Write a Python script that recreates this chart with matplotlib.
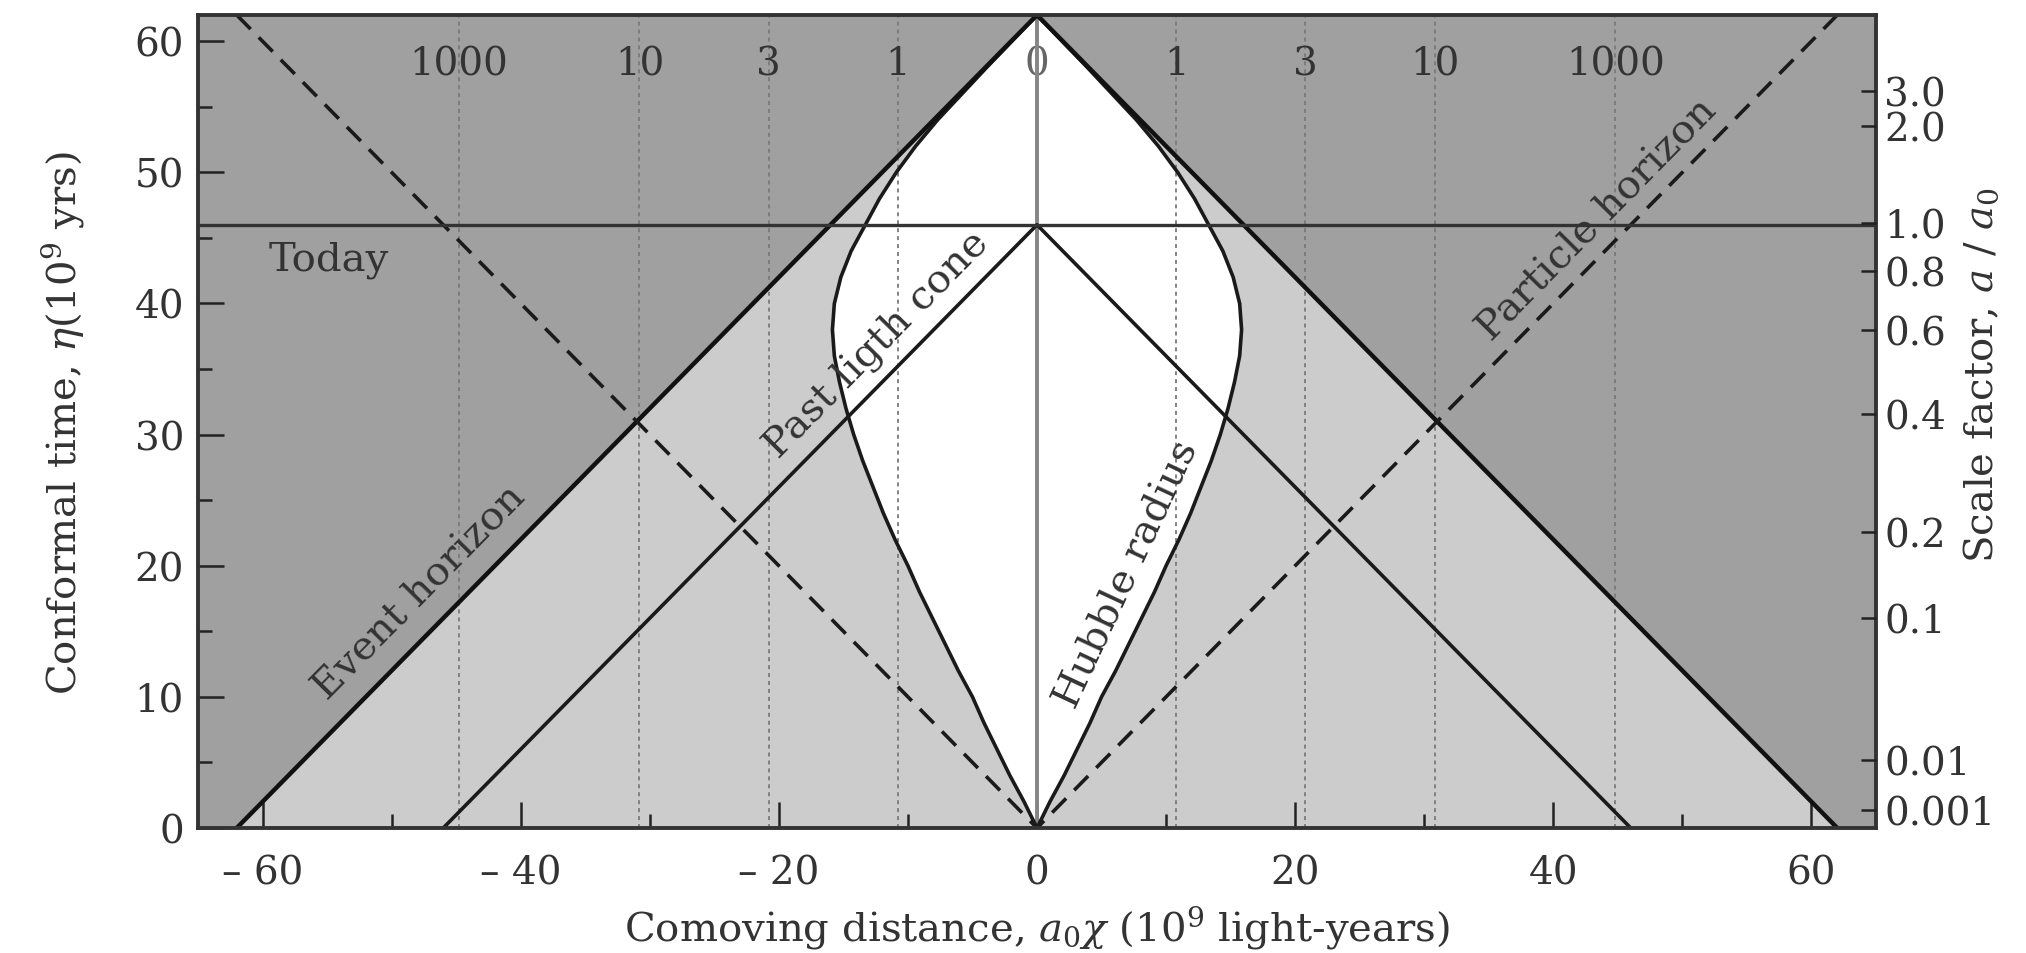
import numpy as np
import matplotlib
matplotlib.use("Agg")
import matplotlib.pyplot as plt

# ---------------- data ----------------
eta_today = 46.0      # conformal time today (10^9 yr)
eta_max = 62.0        # conformal time at t -> infinity (event horizon apex)

x_ticks = [-60, -40, -20, 0, 20, 40, 60]
x_ticklabels = ["\u2013 60", "\u2013 40", "\u2013 20", "0", "20", "40", "60"]
x_minor = [-50, -30, -10, 10, 30, 50]
y_ticks = [0, 10, 20, 30, 40, 50, 60]
y_minor = [5, 15, 25, 35, 45, 55]

redshift_labels = ["1000", "10", "3", "1", "0", "1", "3", "10", "1000"]
redshift_dist = [-44.8, -30.8, -20.8, -10.8, 0.0, 10.8, 20.8, 30.8, 44.8]

scale_labels = ["3.0", "2.0", "1.0", "0.8", "0.6", "0.4", "0.2", "0.1", "0.01", "0.001"]
scale_eta = [56.2, 53.5, 46.1, 42.5, 38.0, 31.6, 22.6, 16.0, 5.2, 1.4]

hubble_eta = [0, 2, 4, 6, 8, 10, 12, 14, 16, 18, 20, 22, 24, 26, 28, 30, 32, 34,
              36, 38, 40, 42, 44, 46, 48, 50, 52, 54, 56, 58, 60, 62]
hubble_r = [0, 1.0, 2.1, 3.1, 4.1, 5.0, 6.1, 7.1, 8.1, 9.1, 10.0, 11.0, 11.9, 12.7,
            13.5, 14.2, 14.8, 15.3, 15.7, 15.85, 15.7, 15.2, 14.4, 13.3, 12.2, 10.9,
            9.4, 7.7, 5.8, 3.9, 1.95, 0]

# ---------------- styling ----------------
plt.rcParams['font.family'] = ['DejaVu Serif']
plt.rcParams['mathtext.fontset'] = 'dejavuserif'
TXT = '#333333'
DARK = '#a0a0a0'
LIGHT = '#cccccc'

fig = plt.figure(figsize=(20.26, 9.54), dpi=100)
ax = fig.add_axes([198/2026, 1-829/954, (1876-198)/2026, (829-16)/954])
ax.set_xlim(-65, 65)
ax.set_ylim(0, 62)
ax.set_facecolor(DARK)

# light grey inside event horizon triangle
ax.fill([-eta_max, 0, eta_max], [0, eta_max, 0], color=LIGHT, lw=0, zorder=1)
# white inside Hubble radius
h_eta = np.array(hubble_eta, dtype=float)
h_r = np.array(hubble_r, dtype=float)
ax.fill_betweenx(h_eta, -h_r, h_r, color='white', lw=0, zorder=1.2)

# vertical dotted redshift lines
for xd in redshift_dist:
    if xd == 0:
        continue
    ax.axvline(xd, color='#7a7a7a', lw=1.3, ls=(0, (2.2, 2.2)), zorder=2)
# solid grey line at x=0
ax.plot([0, 0], [0, eta_max], color='#858585', lw=2.8, zorder=2.5)

# Hubble radius curve
ax.plot(h_r, h_eta, color='#1a1a1a', lw=2.6, zorder=3)
ax.plot(-h_r, h_eta, color='#1a1a1a', lw=2.6, zorder=3)
# event horizon
ax.plot([-eta_max, 0, eta_max], [0, eta_max, 0], color='#111111', lw=3.2, zorder=3.2)
# past light cone
ax.plot([-eta_today, 0, eta_today], [0, eta_today, 0], color='#1a1a1a', lw=2.6, zorder=3.2)
# particle horizon (dashed)
ax.plot([-eta_max, 0, eta_max], [eta_max, 0, eta_max], color='#1a1a1a', lw=2.6,
        ls=(0, (5.5, 3.2)), zorder=3.2)
# today line
ax.axhline(eta_today, color='#333333', lw=2.4, zorder=3.3)

# redshift labels along top
for xd, lab in zip(redshift_dist, redshift_labels):
    ax.text(xd, 57.5, lab, ha='center', va='baseline', fontsize=28,
            color=('#666666' if xd == 0 else TXT), zorder=(2.2 if xd == 0 else 4))

# annotations
ax.text(-54.9, 42.6, "Today", ha='center', va='baseline', fontsize=29, color=TXT, zorder=4)
ax.text(-47.8, 18.0, "Event horizon", ha='center', va='center', fontsize=29, color=TXT,
        rotation=45, transform_rotates_text=True, rotation_mode='anchor', zorder=4)
ax.text(-12.4, 36.9, "Past ligth cone", ha='center', va='center', fontsize=29, color=TXT,
        rotation=45, transform_rotates_text=True, rotation_mode='anchor', zorder=4)
ax.text(43.4, 46.4, "Particle horizon", ha='center', va='center', fontsize=29, color=TXT,
        rotation=45, transform_rotates_text=True, rotation_mode='anchor', zorder=4)
ax.text(7.0, 19.4, "Hubble radius", ha='center', va='center', fontsize=29, color=TXT,
        rotation=65, rotation_mode='anchor', zorder=4)

# axes ticks
ax.set_xticks(x_ticks)
ax.set_xticklabels(x_ticklabels)
ax.set_xticks(x_minor, minor=True)
ax.set_yticks(y_ticks)
ax.set_yticks(y_minor, minor=True)
ax.tick_params(which='major', direction='in', length=19, width=1.8, color='#222222',
               labelsize=28, labelcolor=TXT)
ax.tick_params(which='minor', direction='in', length=10, width=1.8, color='#222222')
ax.tick_params(axis='x', which='major', pad=19)
ax.tick_params(axis='y', which='major', pad=10)
ax.tick_params(top=False, right=False, which='both')

for sp in ax.spines.values():
    sp.set_linewidth(2.8)
    sp.set_color('#333333')
    sp.set_zorder(5)

ax.set_xlabel(r"Comoving distance, $a_0\chi$ (10$^9$ light-years)", fontsize=29, color=TXT)
ax.xaxis.set_label_coords(0.5, -0.092)
ax.set_ylabel(r"Conformal time, $\eta$(10$^9$ yrs)", fontsize=29, color=TXT)
ax.yaxis.set_label_coords(-0.067, 0.5)

# right axis: scale factor
ax2 = ax.twinx()
ax2.set_ylim(ax.get_ylim())
ax2.set_yticks(scale_eta)
ax2.set_yticklabels(scale_labels)
ax2.tick_params(axis='y', direction='in', length=11, width=1.8, color='#222222',
                labelsize=28, labelcolor=TXT, pad=6)
for sp in ax2.spines.values():
    sp.set_visible(False)
ax2.set_ylabel(r"Scale factor, $a$ / $a_0$", fontsize=29, color=TXT)
ax2.yaxis.set_label_coords(1.051, 0.558)

fig.savefig("out.png", dpi=100)
